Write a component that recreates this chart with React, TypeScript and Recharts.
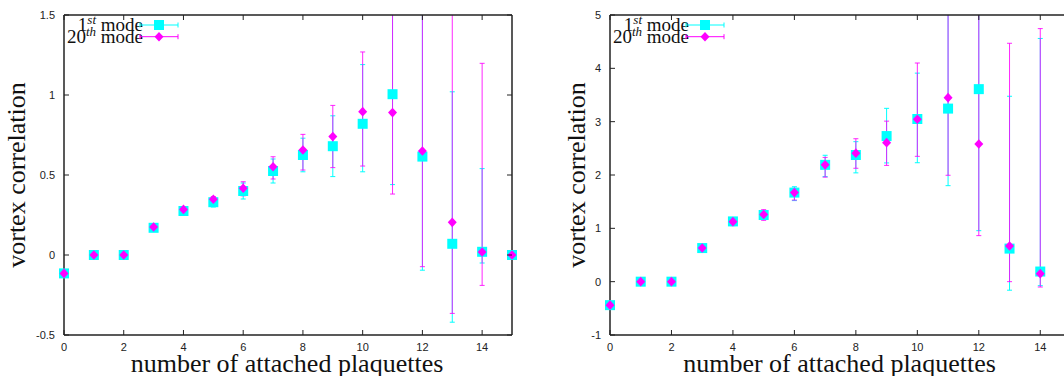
import { ScatterChart, Scatter, XAxis, YAxis, ErrorBar, Legend, ReferenceLine } from "recharts";

// number of attached plaquettes
const plaquettes = [0, 1, 2, 3, 4, 5, 6, 7, 8, 9, 10, 11, 12, 13, 14, 15];

// left panel
const leftFirst = [-0.115, 0, 0, 0.17, 0.275, 0.33, 0.4, 0.525, 0.625, 0.68, 0.82, 1.005, 0.615, 0.07, 0.02, 0];
const leftFirstLow = [-0.12, 0, 0, 0.16, 0.255, 0.3, 0.35, 0.45, 0.52, 0.49, 0.52, 0.44, -0.095, -0.42, -0.05, 0];
const leftFirstHigh = [-0.11, 0, 0, 0.18, 0.29, 0.36, 0.45, 0.6, 0.73, 0.87, 1.19, 1.6, 1.6, 1.02, 0.54, 0];
const leftTwentieth = [-0.115, 0, 0, 0.175, 0.285, 0.348, 0.417, 0.552, 0.656, 0.74, 0.896, 0.89, 0.65, 0.204, 0.019, 0];
const leftTwentiethLow = [-0.12, 0, 0, 0.165, 0.265, 0.33, 0.37, 0.475, 0.531, 0.546, 0.556, 0.381, -0.073, -0.365, -0.19, 0];
const leftTwentiethHigh = [-0.11, 0, 0, 0.185, 0.3, 0.365, 0.458, 0.614, 0.754, 0.935, 1.269, 1.7, 1.7, 1.7, 1.198, 0];

// right panel
const rightFirst = [-0.44, 0, 0, 0.63, 1.13, 1.25, 1.67, 2.19, 2.375, 2.73, 3.05, 3.245, 3.61, 0.62, 0.19, 0];
const rightFirstLow = [-0.47, 0, 0, 0.6, 1.06, 1.17, 1.52, 1.97, 2.04, 2.226, 2.23, 1.8, 0.956, -0.16, -0.075, 0];
const rightFirstHigh = [-0.41, 0, 0, 0.66, 1.2, 1.33, 1.78, 2.37, 2.625, 3.25, 3.91, 5.3, 5.3, 3.476, 4.56, 0];
const rightTwentieth = [-0.44, 0, 0, 0.63, 1.125, 1.26, 1.67, 2.19, 2.41, 2.607, 3.045, 3.45, 2.58, 0.669, 0.15, 0];
const rightTwentiethLow = [-0.47, 0, 0, 0.6, 1.05, 1.15, 1.53, 1.96, 2.126, 2.18, 2.35, 1.995, 0.863, 0.0, -0.1, 0];
const rightTwentiethHigh = [-0.41, 0, 0, 0.66, 1.2, 1.35, 1.75, 2.33, 2.68, 3.01, 4.1, 5.3, 5.3, 4.47, 4.745, 0];

const xTicks = [0, 2, 4, 6, 8, 10, 12, 14];
const leftYTicks = [-0.5, 0, 0.5, 1, 1.5];
const rightYTicks = [-1, 0, 1, 2, 3, 4, 5];

const modeNumbers = ["1", "20"];
const modeSuffixes = ["st", "th"];

const CYAN = "#00ffff";
const MAGENTA = "#ff00ff";
const AXIS = "#222";
const SERIF = "'Liberation Serif', 'Times New Roman', serif";
const SANS = "'Liberation Sans', Arial, sans-serif";

type Row = { n: number; v: number; err: [number, number] };

function rows(values: number[], low: number[], high: number[]): Row[] {
  return plaquettes.map((n, i) => ({ n, v: values[i], err: [values[i] - low[i], high[i] - values[i]] }));
}

const Square = (p: any) => <rect x={p.cx - 5} y={p.cy - 5} width={10} height={10} fill={CYAN} />;
const Diamond = (p: any) => (
  <polygon
    points={`${p.cx},${p.cy - 4.8} ${p.cx + 4.5},${p.cy} ${p.cx},${p.cy + 4.8} ${p.cx - 4.5},${p.cy}`}
    fill={MAGENTA}
  />
);
const Nothing = () => <g />;

function LegendBox({ lineStart }: { lineStart: number }) {
  const ys = [25, 36.7];
  return (
    <svg width={lineStart + 60} height={50} style={{ overflow: "visible" }}>
      {modeNumbers.map((num, i) => {
        const y = ys[i];
        const color = i === 0 ? CYAN : MAGENTA;
        const mid = lineStart + 19;
        return (
          <g key={num}>
            <text x={lineStart + 3} y={y + 6} textAnchor="end" fontFamily={SERIF} fontSize={19} fill="#111">
              {num}
              <tspan fontSize={13} fontStyle="italic" dy={-7}>{modeSuffixes[i]}</tspan>
              <tspan dy={7}> mode</tspan>
            </text>
            <line x1={lineStart} y1={y} x2={lineStart + 38} y2={y} stroke={color} />
            <line x1={lineStart} y1={y - 2.5} x2={lineStart} y2={y + 2.5} stroke={color} />
            <line x1={lineStart + 38} y1={y - 2.5} x2={lineStart + 38} y2={y + 2.5} stroke={color} />
            {i === 0 ? (
              <rect x={mid - 5} y={y - 5} width={10} height={10} fill={CYAN} />
            ) : (
              <polygon points={`${mid},${y - 4.8} ${mid + 4.5},${y} ${mid},${y + 4.8} ${mid - 4.5},${y}`} fill={MAGENTA} />
            )}
          </g>
        );
      })}
    </svg>
  );
}

type PanelProps = {
  left: number;
  width: number;
  plotLeft: number;
  plotRight: number;
  yDomain: [number, number];
  yTicks: number[];
  yTitleX: number;
  first: Row[];
  twentieth: Row[];
};

const PLOT_TOP = 15;
const PLOT_BOTTOM = 335;
const HEIGHT = 376;

function Panel({ left, width, plotLeft, plotRight, yDomain, yTicks, yTitleX, first, twentieth }: PanelProps) {
  const plotH = PLOT_BOTTOM - PLOT_TOP;
  const plotW = plotRight - plotLeft;

  const XTick = (p: any) => (
    <g>
      <line x1={p.x} y1={p.y} x2={p.x} y2={p.y - 5} stroke={AXIS} />
      <line x1={p.x} y1={p.y - plotH} x2={p.x} y2={p.y - plotH + 5} stroke={AXIS} />
      <text x={p.x} y={p.y + 16} textAnchor="middle" fontFamily={SANS} fontSize={11} fill="#222">
        {p.payload.value}
      </text>
    </g>
  );
  const YTick = (p: any) => (
    <g>
      <line x1={p.x} y1={p.y} x2={p.x + 5} y2={p.y} stroke={AXIS} />
      <line x1={p.x + plotW} y1={p.y} x2={p.x + plotW - 5} y2={p.y} stroke={AXIS} />
      <text x={p.x - 9} y={p.y + 4} textAnchor="end" fontFamily={SANS} fontSize={11} fill="#222">
        {p.payload.value}
      </text>
    </g>
  );

  return (
    <div style={{ position: "absolute", left, top: 0, width, height: HEIGHT }}>
      {/* error bars: their own chart, exactly the plot height, so the svg clips them at the frame */}
      <div style={{ position: "absolute", left: 0, top: PLOT_TOP }}>
        <ScatterChart
          width={width}
          height={plotH}
          margin={{ top: 0, right: width - plotRight, bottom: 0, left: plotLeft }}
        >
          <XAxis type="number" dataKey="n" domain={[0, 15]} hide />
          <YAxis type="number" dataKey="v" domain={yDomain} allowDataOverflow hide />
          <Scatter data={first} shape={Nothing} isAnimationActive={false}>
            <ErrorBar dataKey="err" direction="y" width={2.5} stroke={CYAN} strokeWidth={1} isAnimationActive={false} />
          </Scatter>
          <Scatter data={twentieth} shape={Nothing} isAnimationActive={false}>
            <ErrorBar
              dataKey="err"
              direction="y"
              width={2.5}
              stroke={MAGENTA}
              strokeOpacity={0.85}
              strokeWidth={1}
              isAnimationActive={false}
            />
          </Scatter>
        </ScatterChart>
      </div>

      <div style={{ position: "absolute", left: 0, top: 0 }}>
        <ScatterChart
          width={width}
          height={HEIGHT}
          margin={{ top: PLOT_TOP, right: width - plotRight, bottom: 0, left: 0 }}
        >
          <XAxis
            type="number"
            dataKey="n"
            domain={[0, 15]}
            ticks={xTicks}
            height={HEIGHT - PLOT_BOTTOM}
            tickSize={0}
            tickMargin={0}
            tickLine={false}
            tick={XTick}
            axisLine={{ stroke: AXIS, strokeWidth: 1.5 }}
            label={{
              content: () => (
                <text
                  x={plotLeft + plotW / 2 - 1}
                  y={371.5}
                  textAnchor="middle"
                  fontFamily={SERIF}
                  fontSize={26}
                  fill="#111"
                >
                  number of attached plaquettes
                </text>
              ),
            }}
          />
          <YAxis
            type="number"
            dataKey="v"
            domain={yDomain}
            ticks={yTicks}
            width={plotLeft}
            tickSize={0}
            tickMargin={0}
            tickLine={false}
            tick={YTick}
            axisLine={{ stroke: AXIS, strokeWidth: 1.5 }}
            label={{
              content: () => (
                <text
                  transform={`translate(${yTitleX},${(PLOT_TOP + PLOT_BOTTOM) / 2}) rotate(-90)`}
                  textAnchor="middle"
                  fontFamily={SERIF}
                  fontSize={26}
                  fill="#111"
                >
                  vortex correlation
                </text>
              ),
            }}
          />
          <ReferenceLine y={yDomain[1]} stroke={AXIS} strokeWidth={1.5} />
          <ReferenceLine x={15} stroke={AXIS} strokeWidth={1.5} />

          <Scatter data={first} shape={Square} isAnimationActive={false} />
          <Scatter data={twentieth} shape={Diamond} isAnimationActive={false} />

          <Legend
            layout="vertical"
            align="center"
            verticalAlign="middle"
            wrapperStyle={{ position: "absolute", left: 0, top: 0, width: plotLeft + 140, height: 50 }}
            content={() => <LegendBox lineStart={plotLeft + 76} />}
          />
        </ScatterChart>
      </div>
    </div>
  );
}

export default function App() {
  return (
    <div
      style={{
        position: "absolute",
        left: 0,
        top: 0,
        width: 1064,
        height: 376,
        overflow: "hidden",
        background: "#fff",
      }}
    >
      <Panel
        left={0}
        width={530}
        plotLeft={64}
        plotRight={512}
        yDomain={[-0.5, 1.5]}
        yTicks={leftYTicks}
        yTitleX={25}
        first={rows(leftFirst, leftFirstLow, leftFirstHigh)}
        twentieth={rows(leftTwentieth, leftTwentiethLow, leftTwentiethHigh)}
      />
      <Panel
        left={530}
        width={560}
        plotLeft={80}
        plotRight={541}
        yDomain={[-1, 5]}
        yTicks={rightYTicks}
        yTitleX={55}
        first={rows(rightFirst, rightFirstLow, rightFirstHigh)}
        twentieth={rows(rightTwentieth, rightTwentiethLow, rightTwentiethHigh)}
      />
    </div>
  );
}
